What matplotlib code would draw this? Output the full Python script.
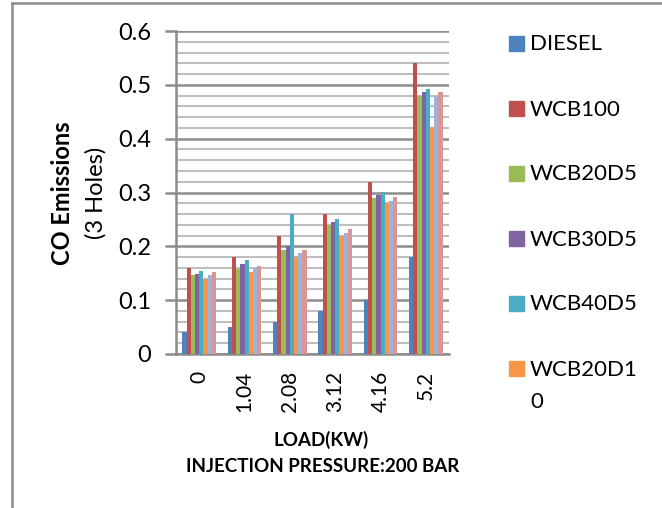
import matplotlib
matplotlib.use("Agg")
import matplotlib.pyplot as plt
import numpy as np
from matplotlib.patches import Rectangle
from matplotlib.lines import Line2D

# ---- data ----
loads = ["0", "1.04", "2.08", "3.12", "4.16", "5.2"]
series_names = ["DIESEL", "WCB100", "WCB20D5", "WCB30D5", "WCB40D5", "WCB20D10",
                "WCB30D10", "WCB40D10"]
diesel   = [0.04, 0.05, 0.06, 0.08, 0.10, 0.18]
wcb100   = [0.16, 0.18, 0.22, 0.26, 0.32, 0.54]
wcb20d5  = [0.146, 0.158, 0.194, 0.24, 0.289, 0.48]
wcb30d5  = [0.149, 0.167, 0.20, 0.245, 0.295, 0.486]
wcb40d5  = [0.155, 0.174, 0.26, 0.251, 0.301, 0.492]
wcb20d10 = [0.14, 0.152, 0.181, 0.22, 0.28, 0.421]
wcb30d10 = [0.146, 0.16, 0.188, 0.225, 0.285, 0.48]
wcb40d10 = [0.152, 0.163, 0.193, 0.232, 0.291, 0.486]
yticks = [0, 0.1, 0.2, 0.3, 0.4, 0.5, 0.6]
ytick_labels = ["0", "0.1", "0.2", "0.3", "0.4", "0.5", "0.6"]

series = [diesel, wcb100, wcb20d5, wcb30d5, wcb40d5, wcb20d10, wcb30d10, wcb40d10]
colors = ["#4F81BD", "#C0504D", "#9BBB59", "#8064A2", "#4BACC6", "#F79646",
          "#9DB3DB", "#D99694"]
n_legend = 6

FONT = "Lato"
plt.rcParams["font.family"] = [FONT, "DejaVu Sans"]

W, H = 662, 508
fig = plt.figure(figsize=(W / 100, H / 100), dpi=100)

def fx(px):
    return px / W

def fy(py):
    return 1 - py / H

left, right, top, bottom = 176.5, 448.5, 31, 354
ax = fig.add_axes([fx(left), fy(bottom), fx(right) - fx(left), fy(top) - fy(bottom)])

x = np.arange(len(loads))
n = len(series)
bw = 0.74 / n
for i, (vals, c) in enumerate(zip(series, colors)):
    ax.bar(x - 0.37 + bw * (i + 0.5), vals, width=bw, color=c, label=series_names[i],
           zorder=3, linewidth=0)

ax.set_xlim(-0.5, len(loads) - 0.5)
ax.set_ylim(0, 0.6)
ax.set_yticks(yticks)
ax.set_yticklabels(ytick_labels)
ax.set_yticks(np.arange(0, 0.601, 0.02), minor=True)
ax.set_xticks(x)
ax.set_xticklabels(loads, rotation=90)

ax.grid(axis="y", which="major", color="#8C8C8C", linewidth=1.8, zorder=0)
ax.grid(axis="y", which="minor", color="#BFBFBF", linewidth=1.5, zorder=0)
ax.set_axisbelow(True)

for s in ["top", "right"]:
    ax.spines[s].set_visible(False)
for s in ["left", "bottom"]:
    ax.spines[s].set_color("#8C8C8C")
    ax.spines[s].set_linewidth(1.8)

ax.tick_params(axis="y", which="major", length=8, width=1.8, color="#8C8C8C",
               labelsize=17, pad=10)
ax.tick_params(axis="y", which="minor", length=0)
ax.tick_params(axis="x", length=0, labelsize=15, pad=12)

# y-axis title
fig.text(fx(62), fy(193), "CO Emissions", rotation=90, ha="center", va="center",
         fontsize=17, fontweight="bold")
fig.text(fx(96), fy(193), "(3 Holes)", rotation=90, ha="center", va="center",
         fontsize=17)

# x-axis titles
fig.text(fx(321), fy(440), "LOAD(KW)", ha="center", va="center", fontsize=13.5,
         fontweight="bold")
fig.text(fx(323), fy(466), "INJECTION PRESSURE:200 BAR", ha="center", va="center",
         fontsize=13.5, fontweight="bold")

# legend (first six entries visible)
ys = [43, 108, 173, 238, 303, 368]
for i in range(n_legend):
    yc = ys[i]
    fig.patches.append(Rectangle((fx(509), fy(yc + 7.5)), fx(15), 15 / H,
                                 transform=fig.transFigure, color=colors[i],
                                 figure=fig))
    name = series_names[i]
    lines = [name[:7], name[7:]] if len(name) > 7 else [name]
    for k, part in enumerate(lines):
        fig.text(fx(530), fy(yc + 7.5 + 32 * k), part, ha="left", va="baseline",
                 fontsize=16)

# outer frame
fig.lines.append(Line2D([fx(11.5), fx(11.5)], [fy(2.5), -0.1], transform=fig.transFigure,
                        color="#8C8C8C", linewidth=1.8, figure=fig))
fig.lines.append(Line2D([fx(11.5), 1.1], [fy(2.5), fy(2.5)], transform=fig.transFigure,
                        color="#8C8C8C", linewidth=1.8, figure=fig))

fig.savefig("out.png", dpi=100)
